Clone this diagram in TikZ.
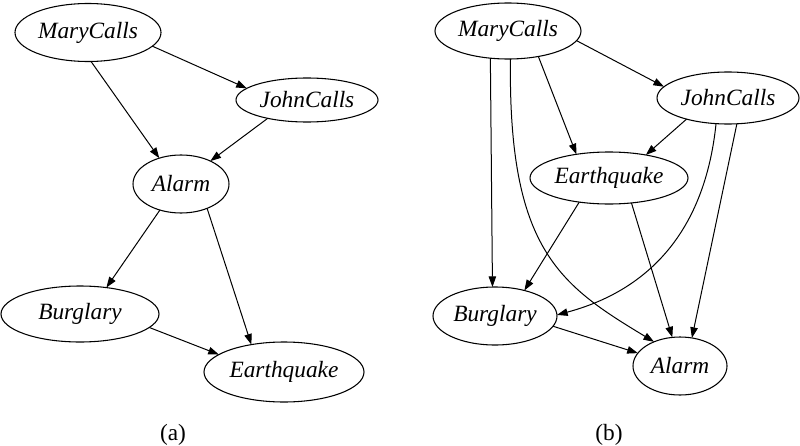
\documentclass[tikz,border=0pt]{standalone}
\usepackage{fontspec}
\setmainfont{Liberation Serif}
\usetikzlibrary{shapes.geometric,arrows.meta}
\begin{document}
\begin{tikzpicture}[x=0.75pt,y=-0.75pt,
  var/.style 2 args={draw, ellipse, inner sep=0pt, outer sep=0pt, line width=0.8pt,
    minimum width=#1*1.5pt, minimum height=#2*1.5pt,
    font=\fontsize{17.5}{20}\selectfont\itshape},
  arc/.style={line width=0.75pt, -{Triangle[length=8pt,width=5.6pt]}},
  sublabel/.style={font=\fontsize{17.5}{20}\selectfont}]
\useasboundingbox (0,0) rectangle (800,446);
% (a)
\node[var={73}{29}] (mA) at (88,32.5) {MaryCalls};
\node[var={71}{22}] (jA) at (307,100) {JohnCalls};
\node[var={48}{29}] (alA) at (181,184) {Alarm};
\node[var={79}{28}] (bA) at (80,314) {Burglary};
\node[var={80}{30}] (eA) at (284,372) {Earthquake};
\node[sublabel] (capA) at (173,435) {(a)};
\draw[arc] (mA.-12.8) -- (jA.169.3);
\draw[arc] (mA.-84) -- (alA.130.8);
\draw[arc] (jA.-155.9) -- (alA.38);
\draw[arc] (alA.-129.4) -- (bA.45);
\draw[arc] (alA.-43.9) -- (eA.140.4);
\draw[arc] (bA.-11) -- (eA.165.4);
% (b)
\node[var={73}{28}] (mB) at (508,31) {MaryCalls};
\node[var={71}{26}] (jB) at (728,98) {JohnCalls};
\node[var={79}{26}] (eB) at (609,178) {Earthquake};
\node[var={62}{29}] (bB) at (495,316) {Burglary};
\node[var={47}{29}] (alB) at (680,366) {Alarm};
\node[sublabel] (capB) at (609,435) {(b)};
\draw[arc] (mB.-8.1) -- (jB.170.3);
\draw[arc] (mB.-40.9) -- (eB.144.2);
\draw[arc] (mB.-123.7) -- (bB.95.7);
\draw[arc] (mB.-85.8) .. controls (508,250) and (560,285) .. (alB.137.1);
\draw[arc] (jB.-153.9) -- (eB.32.4);
\draw[arc] (jB.-115.7) .. controls (705,230) and (650,290) .. (bB.1.8);
\draw[arc] (jB.-71.6) -- (alB.67.5);
\draw[arc] (eB.-141.5) -- (bB.41.3);
\draw[arc] (eB.-48.4) -- (alB.105);
\draw[arc] (bB.-10.4) -- (alB.163.2);
\end{tikzpicture}
\end{document}
